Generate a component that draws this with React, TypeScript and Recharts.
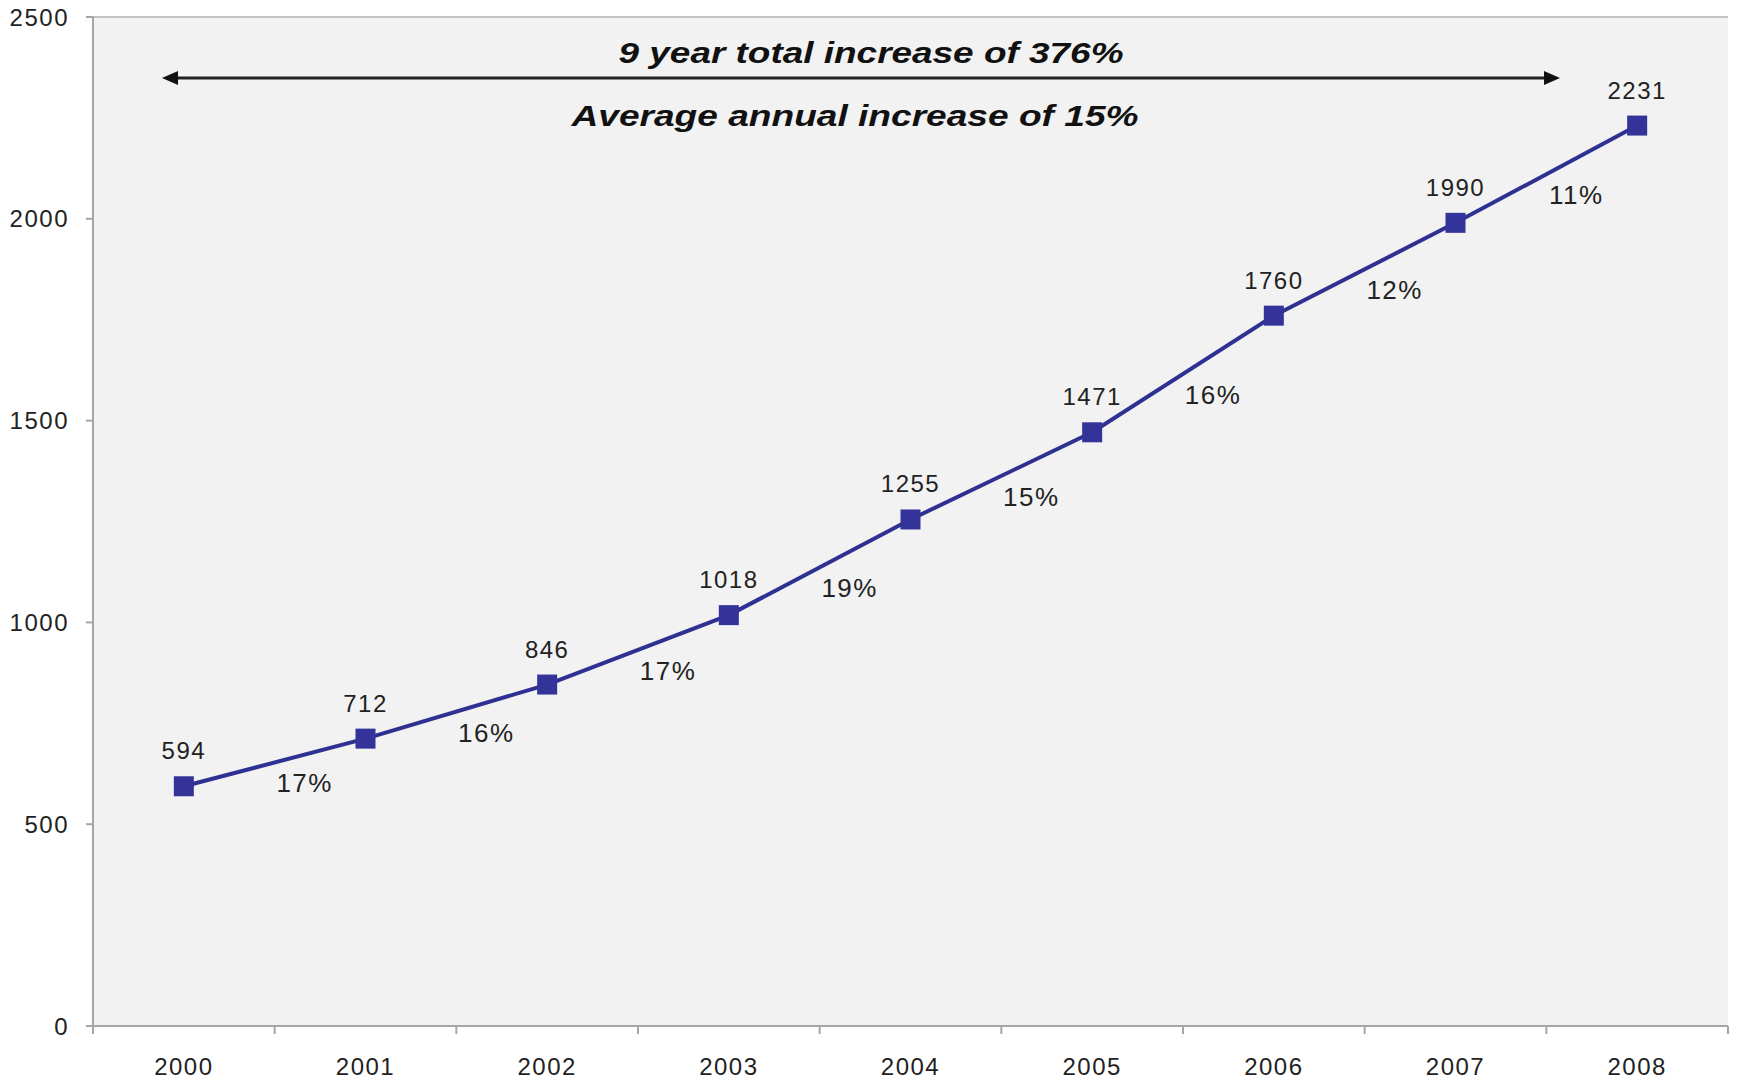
import React from "react";
import { CartesianGrid, LabelList, Line, LineChart, XAxis, YAxis } from "recharts";

const years = ["2000", "2001", "2002", "2003", "2004", "2005", "2006", "2007", "2008"];
const totals = [594, 712, 846, 1018, 1255, 1471, 1760, 1990, 2231];
const growth = ["", "17%", "16%", "17%", "19%", "15%", "16%", "12%", "11%"];
const yTicks = [0, 500, 1000, 1500, 2000, 2500];

const chartData = years.map((year, i) => ({ year, total: totals[i], growth: growth[i] }));

const W = 1741;
const H = 1081;
const X_AXIS_H = 55;
const M = { top: 17, right: 13, bottom: 0, left: 0 };
const Y_AXIS_W = 93;
const plotW = W - M.left - M.right - Y_AXIS_W;
const plotH = H - M.top - X_AXIS_H;
const band = plotW / years.length;
const FONT = "'Liberation Sans', Arial, sans-serif";
const BLUE = "#2e3192";

function XTick(props: any) {
  const { x, y, index, payload } = props;
  const last = index === years.length - 1;
  return (
    <g>
      <line x1={x - band / 2} x2={x - band / 2} y1={y} y2={y + 8} stroke="#a6a6a6" strokeWidth={2} />
      {last && <line x1={x + band / 2} x2={x + band / 2} y1={y} y2={y + 8} stroke="#a6a6a6" strokeWidth={2} />}
      <text x={x} y={y + 49} textAnchor="middle" fontSize={24} letterSpacing={1.5} fill="#222" fontFamily={FONT}>
        {payload.value}
      </text>
    </g>
  );
}

function SquareDot(props: any) {
  const { cx, cy, index, points, value } = props;
  let pct = null;
  if (index > 0) {
    let px = cx - band;
    let py = cy + ((value - totals[index - 1]) * plotH) / 2500;
    if (points && points[index - 1]) {
      px = points[index - 1].x;
      py = points[index - 1].y;
    }
    pct = (
      <text x={(cx + px) / 2 + 30} y={(cy + py) / 2 + 30} textAnchor="middle" fontSize={26} letterSpacing={1.5} fill="#222" fontFamily={FONT}>
        {growth[index]}
      </text>
    );
  }
  return (
    <g>
      <rect x={cx - 10} y={cy - 10} width={20} height={20} fill="#333399" />
      {pct}
    </g>
  );
}

function ValueLabel(props: any) {
  const { x, y, value } = props;
  return (
    <text x={x} y={y - 27} textAnchor="middle" fontSize={24} letterSpacing={1.5} fill="#222" fontFamily={FONT}>
      {value}
    </text>
  );
}

export default function App() {
  return (
    <div style={{ position: "absolute", left: 0, top: 0, width: W, height: H, background: "#fff", fontFamily: FONT }}>
      <LineChart width={W} height={H} data={chartData} margin={M}>
        <CartesianGrid vertical={false} stroke="#c4c4c4" strokeWidth={2} fill="#f2f2f2" />
        <XAxis
          dataKey="year"
          padding={{ left: band / 2, right: band / 2 }}
          axisLine={{ stroke: "#a6a6a6", strokeWidth: 2 }}
          tickLine={false}
          tickSize={0}
          tickMargin={0}
          height={X_AXIS_H}
          interval={0}
          tick={<XTick />}
        />
        <YAxis
          yAxisId="left"
          domain={[0, 2500]}
          ticks={yTicks}
          width={Y_AXIS_W}
          axisLine={{ stroke: "#a6a6a6", strokeWidth: 2 }}
          tickLine={{ stroke: "#a6a6a6", strokeWidth: 2 }}
          tickSize={7}
          tickMargin={17}
          tick={{ fontSize: 24, fill: "#222", fontFamily: FONT, letterSpacing: 1.5 }}
        />
        <YAxis yAxisId="right" orientation="right" width={0} tick={false} tickLine={false} axisLine={{ stroke: "#d0d0d0", strokeWidth: 2 }} />
        <Line
          yAxisId="left"
          type="linear"
          dataKey="total"
          stroke={BLUE}
          strokeWidth={4}
          dot={<SquareDot />}
          activeDot={false}
          isAnimationActive={false}
        >
          <LabelList dataKey="total" content={<ValueLabel />} />
        </Line>
      </LineChart>
      <svg width={W} height={H} style={{ position: "absolute", left: 0, top: 0, pointerEvents: "none" }}>
        <line x1={175} x2={1546} y1={78} y2={78} stroke="#222" strokeWidth={3} />
        <polygon points="162,78 178,71 178,85" fill="#111" />
        <polygon points="1560,78 1544,71 1544,85" fill="#111" />
        <text x={871} y={63} textAnchor="middle" fontSize={30} fontWeight="bold" fontStyle="italic" fill="#111" fontFamily={FONT} textLength={505} lengthAdjust="spacingAndGlyphs">
          9 year total increase of 376%
        </text>
        <text x={855} y={126} textAnchor="middle" fontSize={30} fontWeight="bold" fontStyle="italic" fill="#111" fontFamily={FONT} textLength={567} lengthAdjust="spacingAndGlyphs">
          Average annual increase of 15%
        </text>
      </svg>
    </div>
  );
}
